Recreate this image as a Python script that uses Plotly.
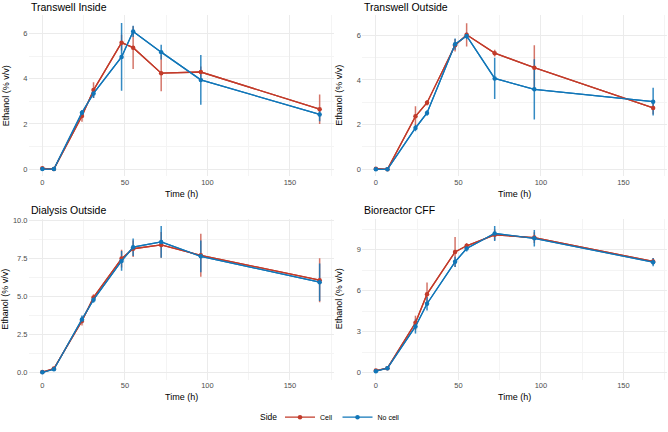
import plotly.graph_objects as go

# ---------------- data ----------------
time_h = [0, 7, 24, 31, 48, 55, 72, 96, 168]
panels = ["Transwell Inside", "Transwell Outside", "Dialysis Outside", "Bioreactor CFF"]
sides = ["Cell", "No cell"]

ti_cell_mean = [0.03, 0.00, 2.35, 3.50, 5.60, 5.38, 4.25, 4.30, 2.65]
ti_cell_sd = [0.02, 0.02, 0.25, 0.35, 0.35, 0.95, 0.80, 0.25, 0.65]
ti_nocell_mean = [0.00, 0.00, 2.50, 3.35, 4.97, 6.10, 5.18, 3.95, 2.42]
ti_nocell_sd = [0.02, 0.02, 0.12, 0.20, 1.50, 0.25, 0.33, 1.10, 0.30]

to_cell_mean = [0.03, 0.00, 2.37, 2.98, 5.55, 6.02, 5.20, 4.55, 2.75]
to_cell_sd = [0.02, 0.02, 0.45, 0.12, 0.28, 0.52, 0.15, 1.00, 0.28]
to_nocell_mean = [0.00, 0.00, 1.85, 2.52, 5.60, 5.97, 4.07, 3.58, 3.03]
to_nocell_sd = [0.02, 0.02, 0.15, 0.12, 0.25, 0.15, 0.92, 1.35, 0.62]

do_cell_mean = [0.04, 0.27, 3.40, 4.95, 7.50, 8.15, 8.40, 7.72, 6.08]
do_cell_sd = [0.03, 0.05, 0.30, 0.20, 0.58, 0.55, 0.85, 1.42, 1.45]
do_nocell_mean = [0.02, 0.22, 3.50, 4.80, 7.35, 8.25, 8.60, 7.65, 5.95]
do_nocell_sd = [0.03, 0.05, 0.25, 0.20, 0.65, 0.58, 1.05, 1.05, 1.23]

br_cell_mean = [0.15, 0.32, 3.65, 5.75, 8.85, 9.30, 10.10, 9.90, 8.15]
br_cell_sd = [0.05, 0.05, 0.52, 0.85, 1.10, 0.20, 0.40, 0.40, 0.25]
br_nocell_mean = [0.10, 0.32, 3.38, 5.05, 8.12, 9.10, 10.20, 9.85, 8.10]
br_nocell_sd = [0.05, 0.05, 0.52, 0.50, 0.38, 0.22, 0.55, 0.60, 0.30]

x_ticks = [0, 50, 100, 150]
y_ticks_ti = [0, 2, 4, 6]
y_ticks_to = [0, 2, 4, 6]
y_ticks_do = [0.0, 2.5, 5.0, 7.5, 10.0]
y_ticks_do_text = ["0.0", "2.5", "5.0", "7.5", "10.0"]
y_ticks_br = [0, 3, 6, 9]
legend_title = "Side"

# ---------------- style / layout ----------------
W, H = 668, 432
colors = {"Cell": "#C23B2A", "No cell": "#1176B8"}
err_colors = {"Cell": "rgba(194,59,42,0.7)", "No cell": "rgba(17,118,184,0.85)"}
FONT = "Liberation Sans, Arial, Helvetica, sans-serif"

panel_data = [
    (ti_cell_mean, ti_cell_sd, ti_nocell_mean, ti_nocell_sd),
    (to_cell_mean, to_cell_sd, to_nocell_mean, to_nocell_sd),
    (do_cell_mean, do_cell_sd, do_nocell_mean, do_nocell_sd),
    (br_cell_mean, br_cell_sd, br_nocell_mean, br_nocell_sd),
]
# pixel boxes (left, right, top, bottom)
boxes = [
    (28.5, 333.5, 13.5, 178.8),
    (362.0, 667.0, 13.5, 178.8),
    (28.5, 333.5, 222.3, 387.8),
    (362.0, 667.0, 222.3, 387.8),
]
y_ranges = [(-0.32, 6.82), (-0.31, 6.90), (-0.48, 10.13), (-0.54, 11.29)]
y_tickvals = [y_ticks_ti, y_ticks_to, y_ticks_do, y_ticks_br]
y_ticktext = [[str(v) for v in y_ticks_ti], [str(v) for v in y_ticks_to],
              y_ticks_do_text, [str(v) for v in y_ticks_br]]
y_minor = [1, 1, 1.25, 1.5]

LEG_Y = 426  # px from top
fig = go.Figure()
layout = dict(
    width=W, height=H,
    margin=dict(l=0, r=0, t=0, b=0),
    paper_bgcolor="white", plot_bgcolor="white",
    font=dict(family=FONT, color="#000000"),
    showlegend=True,
    legend=dict(
        orientation="h", x=280 / W, xanchor="left", y=1 - LEG_Y / H, yanchor="middle",
        font=dict(size=7, color="#000000"),
        itemwidth=30, tracegroupgap=0, bgcolor="rgba(0,0,0,0)",
    ),
)
annotations = [dict(
    text=legend_title, x=279 / W, y=1 - LEG_Y / H, xref="paper", yref="paper",
    xanchor="right", yanchor="middle", showarrow=False,
    font=dict(size=8.5, color="#000000", family=FONT),
)]

for i, (panel, data, box) in enumerate(zip(panels, panel_data, boxes)):
    ax = "" if i == 0 else str(i + 1)
    l, r, t, b = box
    xd = [l / W, r / W]
    yd = [1 - b / H, 1 - t / H]
    grid_major = "#EBEBEB"
    grid_minor = "#F4F4F4"
    layout["xaxis" + ax] = dict(
        domain=xd, anchor="y" + ax, range=[-8.4, 176.4],
        tickvals=x_ticks, ticktext=[str(v) for v in x_ticks],
        showgrid=True, gridcolor=grid_major, gridwidth=1,
        minor=dict(dtick=25, tick0=25, showgrid=True, gridcolor=grid_minor, gridwidth=1),
        zeroline=False, showline=False, ticks="",
        tickfont=dict(size=7.5, color="#4D4D4D", family=FONT),
    )
    layout["yaxis" + ax] = dict(
        domain=yd, anchor="x" + ax, range=list(y_ranges[i]),
        tickvals=y_tickvals[i], ticktext=y_ticktext[i],
        showgrid=True, gridcolor=grid_major, gridwidth=1,
        minor=dict(dtick=y_minor[i] * 2, tick0=y_minor[i], showgrid=True,
                   gridcolor=grid_minor, gridwidth=1),
        zeroline=False, showline=False, ticks="",
        tickfont=dict(size=7.5, color="#4D4D4D", family=FONT),
    )
    cm, cs, nm, ns = data
    groups = [("Cell", cm, cs), ("No cell", nm, ns)]
    # error bars layer
    for side, m, s in groups:
        fig.add_trace(go.Scatter(
            x=time_h, y=m, mode="markers",
            marker=dict(size=1, opacity=0, color=colors[side]),
            error_y=dict(type="data", array=s, visible=True, width=0,
                         thickness=1.5, color=err_colors[side]),
            xaxis="x" + ax, yaxis="y" + ax, showlegend=False, hoverinfo="skip",
        ))
    # lines layer
    for side, m, s in groups:
        fig.add_trace(go.Scatter(
            x=time_h, y=m, mode="lines",
            line=dict(color=colors[side], width=1.3),
            xaxis="x" + ax, yaxis="y" + ax, showlegend=False,
        ))
    # points layer (line included so legend key shows line + point)
    for side, m, s in groups:
        fig.add_trace(go.Scatter(
            x=time_h, y=m, mode="lines+markers",
            line=dict(color=colors[side], width=1.3),
            marker=dict(size=4.5, color=colors[side]),
            name=side, legendgroup=side,
            xaxis="x" + ax, yaxis="y" + ax, showlegend=(i == 0),
        ))
    # panel title
    annotations.append(dict(
        text=panel, x=l / W, y=1 - (t - 8.5) / H, xref="paper", yref="paper",
        xanchor="left", yanchor="middle", showarrow=False,
        font=dict(size=10.5, color="#000000", family=FONT),
    ))
    # x axis title
    annotations.append(dict(
        text="Time (h)", x=(l + r) / 2 / W, y=1 - (b + 18) / H, xref="paper", yref="paper",
        xanchor="center", yanchor="middle", showarrow=False,
        font=dict(size=9, color="#000000", family=FONT),
    ))
    # y axis title
    annotations.append(dict(
        text="Ethanol (% v/v)", x=(l - 23) / W, y=1 - (t + b) / 2 / H,
        xref="paper", yref="paper", xanchor="center", yanchor="middle",
        textangle=-90, showarrow=False,
        font=dict(size=9, color="#000000", family=FONT),
    ))

layout["annotations"] = annotations
fig.update_layout(**layout)
fig.write_html("out.html")
